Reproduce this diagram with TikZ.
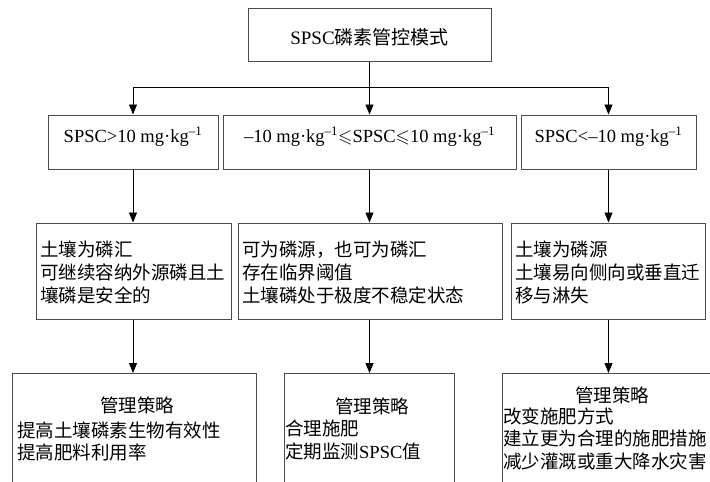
\documentclass[tikz,border=0pt]{standalone}
\usepackage{amssymb}
\usepackage{fontspec}
\setmainfont{Liberation Serif}
\newfontfamily\cjk{Noto Sans CJK SC}
\usetikzlibrary{arrows.meta}
\newcommand{\zh}[1]{{\cjk #1}}
\begin{document}
\begin{tikzpicture}[x=1pt,y=-1pt,
  box/.style={draw=black!70, line width=1pt, rectangle, inner sep=0pt},
  txt/.style={font=\fontsize{18.5}{23}\selectfont, inner sep=0pt, align=left},
  txtb/.style={font=\fontsize{18.5}{22.5}\selectfont, inner sep=0pt, align=left},
  arr/.style={-{Triangle[width=8pt,length=10pt]}, line width=0.8pt, draw=black},
  ]
\useasboundingbox (0,0) rectangle (710,482);
\fill[white] (0,0) rectangle (710,482);
\clip (0,0) rectangle (710,482);

% top
\node[box, minimum width=243pt, minimum height=53pt] (top) at (369.5,34.5) {};
\node[txt, font=\fontsize{19}{23}\selectfont, anchor=base] (topt) at (369.5,44) {SPSC\zh{磷素管控模式}};

% row 2
\node[box, minimum width=170pt, minimum height=54pt] (l2) at (133,142) {};
\node[box, minimum width=293pt, minimum height=54pt] (m2) at (369.5,142) {};
\node[box, minimum width=175pt, minimum height=54pt] (r2) at (608.5,142) {};
\node[txt, anchor=base] (l2t) at (l2.center) {SPSC\textgreater10 mg·kg\textsuperscript{–1}};
\node[txt, anchor=base] (m2t) at (m2.center) {–10 mg·kg\textsuperscript{–1}$\leqslant$SPSC$\leqslant$10 mg·kg\textsuperscript{–1}};
\node[txt, anchor=base] (r2t) at (r2.center) {SPSC\textless–10 mg·kg\textsuperscript{–1}};

% row 3 (base anchor = baseline of last line)
\node[box, minimum width=195pt, minimum height=96pt] (l3) at (133.5,271) {};
\node[box, minimum width=264pt, minimum height=96pt] (m3) at (370,271) {};
\node[box, minimum width=194pt, minimum height=96pt] (r3) at (608,271) {};
\node[txt, anchor=base west] (l3t) at (40,302) {\zh{土壤为磷汇}\\\zh{可继续容纳外源磷且土}\\\zh{壤磷是安全的}};
\node[txt, anchor=base west] (m3t) at (242,302) {\zh{可为磷源，也可为磷汇}\\\zh{存在临界阈值}\\\zh{土壤磷处于极度不稳定状态}};
\node[txt, anchor=base west] (r3t) at (515,302) {\zh{土壤为磷源}\\\zh{土壤易向侧向或垂直迁}\\\zh{移与淋失}};

% row 4
\node[box, minimum width=244pt, minimum height=130pt, anchor=north] (l4) at (134,373) {};
\node[box, minimum width=170pt, minimum height=130pt, anchor=north] (m4) at (369,373) {};
\node[box, minimum width=220pt, minimum height=130pt, anchor=north] (r4) at (612,373) {};
\node[txtb, anchor=base] (l4h) at (137,412) {\zh{管理策略}};
\node[txtb, anchor=base west] (l4t) at (17,459.5) {\zh{提高土壤磷素生物有效性}\\\zh{提高肥料利用率}};
\node[txtb, anchor=base] (m4h) at (372,413) {\zh{管理策略}};
\node[txtb, anchor=base west] (m4t) at (285,458) {\zh{合理施肥}\\\zh{定期监测}SPSC\zh{值}};
\node[txtb, anchor=base] (r4h) at (612,402) {\zh{管理策略}};
\node[txtb, anchor=base west] (r4t) at (503,468) {\zh{改变施肥方式}\\\zh{建立更为合理的施肥措施}\\\zh{减少灌溉或重大降水灾害}};

% connectors
\coordinate (j) at (369.5,87);
\draw[arr] (top.south) -- (m2.north);
\draw[arr] (j) -| (l2.north);
\draw[arr] (j) -| (r2.north);
\draw[arr] (l2.south) -- (l2.south |- l3.north);
\draw[arr] (m2.south) -- (m2.south |- m3.north);
\draw[arr] (r2.south) -- (r2.south |- r3.north);
\draw[arr] (l2.south |- l3.south) -- (l2.south |- l4.north);
\draw[arr] (m2.south |- m3.south) -- (m2.south |- m4.north);
\draw[arr] (r2.south |- r3.south) -- (r2.south |- r4.north);
\end{tikzpicture}
\end{document}
